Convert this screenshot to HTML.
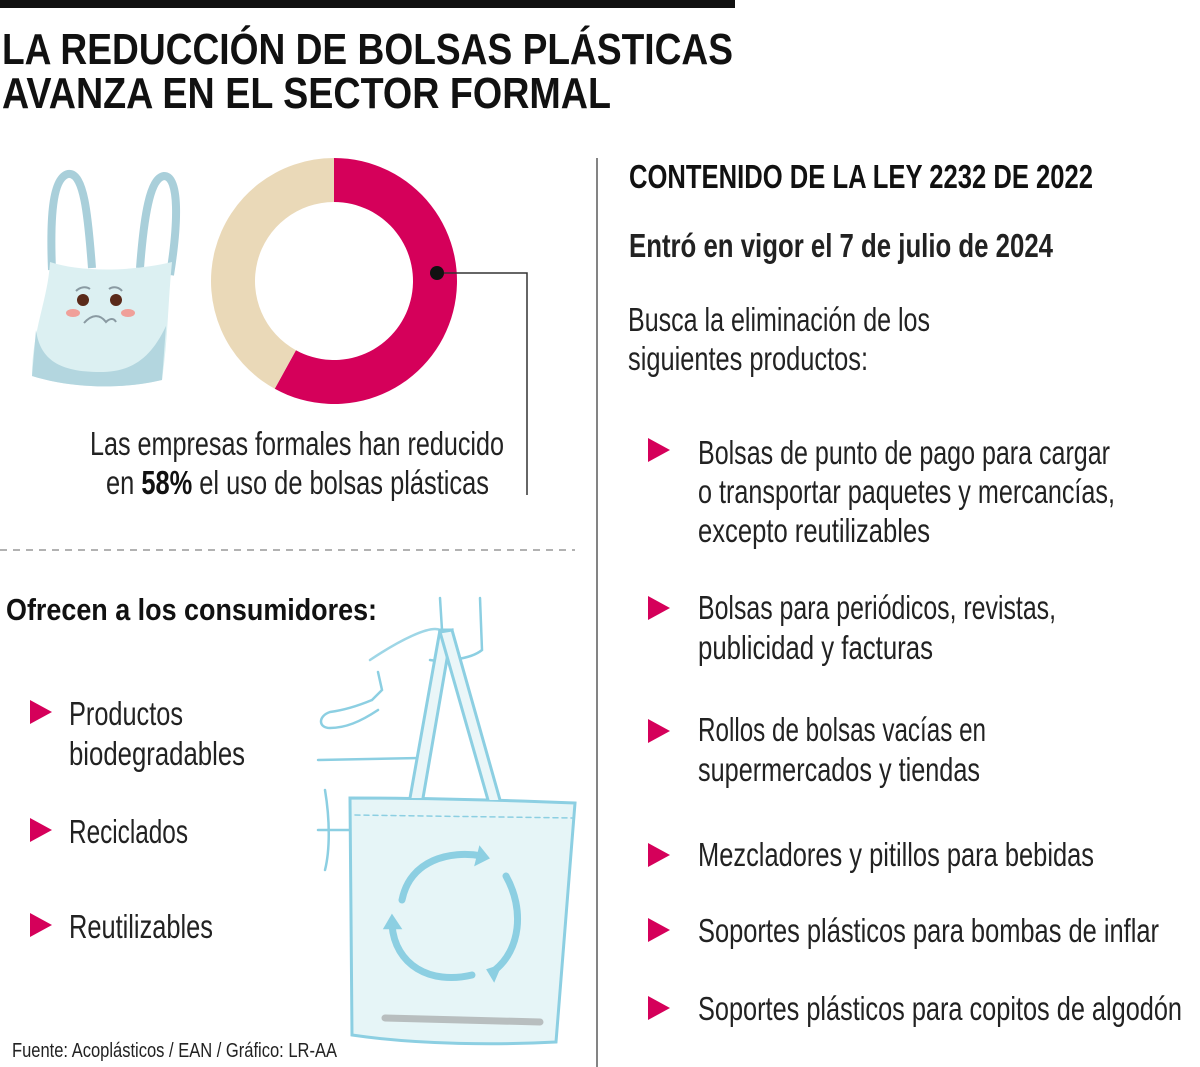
<!DOCTYPE html>
<html><head><meta charset="utf-8">
<style>
html,body{margin:0;padding:0;background:#fff;}
svg{display:block;}
text{font-family:"Liberation Sans Narrow","Liberation Sans",sans-serif;}
.b{font-weight:bold;fill:#111;}
.r{fill:#222;}
</style></head>
<body>
<svg id="page" width="1200" height="1067" viewBox="0 0 1200 1067">
  <rect x="0" y="0" width="735" height="8" fill="#111"/>
  <g>
    <text class="b" x="2" y="64" font-size="44" textLength="731" lengthAdjust="spacingAndGlyphs">LA REDUCCIÓN DE BOLSAS PLÁSTICAS</text>
    <text class="b" x="2" y="108" font-size="44" textLength="609" lengthAdjust="spacingAndGlyphs">AVANZA EN EL SECTOR FORMAL</text>
  </g>

  <!-- plastic bag illustration -->
  <g>
    <path d="M52,270 C50,220 52,178 68,174 C84,172 88,215 92,268" fill="none" stroke="#a9cfda" stroke-width="8" stroke-linejoin="round"/>
    <path d="M140,268 C144,215 150,178 164,176 C180,176 178,225 170,275" fill="none" stroke="#a9cfda" stroke-width="8" stroke-linejoin="round"/>
    <path d="M50,262 C80,272 130,272 172,262 C168,300 168,340 162,380 C120,390 70,388 32,376 C32,330 48,300 50,262 Z" fill="#dcf0f2"/>
    <path d="M36,330 C40,360 60,372 100,372 C130,372 150,360 166,326 L162,380 C120,390 70,388 32,376 Z" fill="#b3d6df"/>
    <circle cx="83" cy="300" r="6" fill="#5a2a1a"/>
    <circle cx="116" cy="300" r="6" fill="#5a2a1a"/>
    <ellipse cx="73" cy="313" rx="7" ry="4" fill="#f0a09a"/>
    <ellipse cx="128" cy="313" rx="7" ry="4" fill="#f0a09a"/>
    <path d="M84,323 C92,314 100,314 106,322 C110,318 114,318 116,322" fill="none" stroke="#8a9aa2" stroke-width="2"/>
    <path d="M76,291 C80,287 86,286 90,289 M109,289 C113,286 119,287 122,291" fill="none" stroke="#8a9aa2" stroke-width="2"/>
  </g>

  <!-- donut -->
  <g id="donut"></g>
  <polyline points="437,273 527,273 527,495" fill="none" stroke="#333" stroke-width="1.5"/>
  <circle cx="437" cy="273" r="7" fill="#111"/>
  <g>
    <text class="r" x="90" y="455" font-size="33" textLength="414" lengthAdjust="spacingAndGlyphs">Las empresas formales han reducido</text>
    <text class="r" x="106" y="494" font-size="33" textLength="383" lengthAdjust="spacingAndGlyphs">en <tspan font-weight="bold" fill="#111">58%</tspan> el uso de bolsas plásticas</text>
  </g>

  <line x1="0" y1="550" x2="575" y2="550" stroke="#999" stroke-width="1.5" stroke-dasharray="7,6"/>
  <line x1="597" y1="158" x2="597" y2="1067" stroke="#333" stroke-width="1.2"/>

  <text class="b" x="6" y="620" font-size="31" textLength="371" lengthAdjust="spacingAndGlyphs">Ofrecen a los consumidores:</text>

  <!-- tote bag -->
  <g fill="none" stroke="#8ccfe2" stroke-width="2.5" stroke-linecap="round">
    <path d="M440,598 L442,630 M480,598 L482,650 C470,660 440,662 430,660"/>
    <path d="M370,660 C400,640 430,625 440,630 C455,640 470,690 482,740" stroke="#9ed6e6"/>
    <path d="M378,672 L382,690 L372,700 M372,700 C360,705 345,710 330,712 C318,716 318,728 330,728 C345,728 360,722 378,710"/>
    <path d="M318,760 L420,758 M325,790 C330,820 330,850 325,870 M318,830 L350,830"/>
    <path d="M350,798 L352,1035 C420,1045 500,1045 556,1042 L575,803 C500,800 420,798 350,798 Z" fill="#e6f5f7" stroke="#8ccfe2" stroke-width="3"/>
    <path d="M355,815 L572,818" stroke-dasharray="5,4" stroke-width="1.5"/>
    <path d="M410,798 L440,630 L452,630 L423,798" fill="#eaf6f8" stroke-width="3"/>
    <path d="M500,800 L452,630 L440,632 L488,800" fill="#eaf6f8" stroke-width="3"/>
    <path d="M402,900 C410,860 450,850 482,856" stroke-width="7"/>
    <path d="M506,876 C525,910 520,950 495,970" stroke-width="7"/>
    <path d="M472,975 C430,985 395,965 392,925" stroke-width="7"/>
    <path d="M480,848 L488,858 L476,864 Z" fill="#8ccfe2"/>
    <path d="M488,970 L494,980 L500,966 Z" fill="#8ccfe2"/>
    <path d="M385,928 L392,916 L400,928 Z" fill="#8ccfe2"/>
    <path d="M385,1018 L540,1022" stroke="#999" stroke-width="7" opacity="0.6"/>
  </g>

  <!-- left list -->
  <g>
    <g>
      <path d="M30,700 L52,712 L30,724 Z" fill="#d5005a"/>
      <text class="r" x="69" y="725" font-size="33" textLength="114" lengthAdjust="spacingAndGlyphs">Productos</text>
      <text class="r" x="69" y="765" font-size="33" textLength="176" lengthAdjust="spacingAndGlyphs">biodegradables</text>
    </g>
    <g>
      <path d="M30,818 L52,830 L30,842 Z" fill="#d5005a"/>
      <text class="r" x="69" y="843" font-size="33" textLength="119" lengthAdjust="spacingAndGlyphs">Reciclados</text>
    </g>
    <g>
      <path d="M30,913 L52,925 L30,937 Z" fill="#d5005a"/>
      <text class="r" x="69" y="938" font-size="33" textLength="144" lengthAdjust="spacingAndGlyphs">Reutilizables</text>
    </g>
  </g>
  <text class="r" x="12" y="1057" font-size="20" textLength="325" lengthAdjust="spacingAndGlyphs">Fuente: Acoplásticos / EAN  / Gráfico: LR-AA</text>

  <!-- right column -->
  <text class="b" x="629" y="188" font-size="33" textLength="464" lengthAdjust="spacingAndGlyphs">CONTENIDO DE LA LEY 2232 DE 2022</text>
  <text x="629" y="257" font-size="33" font-weight="bold" fill="#222" textLength="424" lengthAdjust="spacingAndGlyphs">Entró en vigor el 7 de julio de 2024</text>
  <g>
    <text class="r" x="628" y="331" font-size="33" textLength="302" lengthAdjust="spacingAndGlyphs">Busca la eliminación de los</text>
    <text class="r" x="628" y="370" font-size="33" textLength="240" lengthAdjust="spacingAndGlyphs">siguientes productos:</text>
  </g>
  <g>
    <g>
      <path d="M648,438 L670,450 L648,462 Z" fill="#d5005a"/>
      <text class="r" x="698" y="464" font-size="33" textLength="412" lengthAdjust="spacingAndGlyphs">Bolsas de punto de pago para cargar</text>
      <text class="r" x="698" y="503" font-size="33" textLength="417" lengthAdjust="spacingAndGlyphs">o transportar paquetes y mercancías,</text>
      <text class="r" x="698" y="542" font-size="33" textLength="232" lengthAdjust="spacingAndGlyphs">excepto reutilizables</text>
    </g>
    <g>
      <path d="M648,596 L670,608 L648,620 Z" fill="#d5005a"/>
      <text class="r" x="698" y="619" font-size="33" textLength="358" lengthAdjust="spacingAndGlyphs">Bolsas para periódicos, revistas,</text>
      <text class="r" x="698" y="659" font-size="33" textLength="235" lengthAdjust="spacingAndGlyphs">publicidad y facturas</text>
    </g>
    <g>
      <path d="M648,719 L670,731 L648,743 Z" fill="#d5005a"/>
      <text class="r" x="698" y="741" font-size="33" textLength="288" lengthAdjust="spacingAndGlyphs">Rollos de bolsas vacías en</text>
      <text class="r" x="698" y="781" font-size="33" textLength="282" lengthAdjust="spacingAndGlyphs">supermercados y tiendas</text>
    </g>
    <g>
      <path d="M648,843 L670,855 L648,867 Z" fill="#d5005a"/>
      <text class="r" x="698" y="866" font-size="33" textLength="396" lengthAdjust="spacingAndGlyphs">Mezcladores y pitillos para bebidas</text>
    </g>
    <g>
      <path d="M648,918 L670,930 L648,942 Z" fill="#d5005a"/>
      <text class="r" x="698" y="942" font-size="33" textLength="461" lengthAdjust="spacingAndGlyphs">Soportes plásticos para bombas de inflar</text>
    </g>
    <g>
      <path d="M648,996 L670,1008 L648,1020 Z" fill="#d5005a"/>
      <text class="r" x="698" y="1020" font-size="33" textLength="484" lengthAdjust="spacingAndGlyphs">Soportes plásticos para copitos de algodón</text>
    </g>
  </g>
</svg>
<script>
const categories = ["Reducción", "Resto"];
const values = [58, 42];
const colors = ["#d5005a", "#ead9b8"];
(function(){
  const g = document.getElementById('donut');
  const ns = 'http://www.w3.org/2000/svg';
  const cx = 334, cy = 281, rO = 123, rI = 79;
  const total = values.reduce((a,b)=>a+b,0);
  let start = 0;
  function pt(r, frac){ const a = frac*2*Math.PI; return [cx + r*Math.sin(a), cy - r*Math.cos(a)]; }
  values.forEach((v,i)=>{
    const end = start + v/total;
    const large = (end-start) > 0.5 ? 1 : 0;
    const [x1,y1]=pt(rO,start),[x2,y2]=pt(rO,end),[x3,y3]=pt(rI,end),[x4,y4]=pt(rI,start);
    const p = document.createElementNS(ns,'path');
    p.setAttribute('d',`M${x1},${y1} A${rO},${rO} 0 ${large} 1 ${x2},${y2} L${x3},${y3} A${rI},${rI} 0 ${large} 0 ${x4},${y4} Z`);
    p.setAttribute('fill', colors[i]);
    
    
    g.appendChild(p);
    start = end;
  });
})();
</script>
</body></html>
